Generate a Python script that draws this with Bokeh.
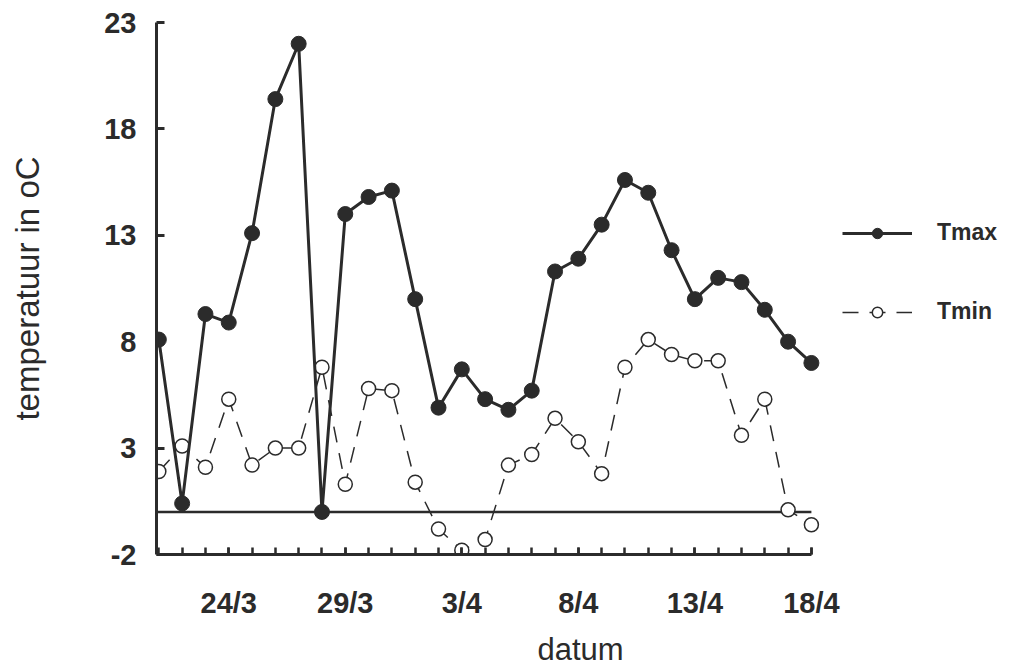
from bokeh.plotting import figure
from bokeh.models import Range1d, FixedTicker, Legend, LegendItem
from bokeh.embed import file_html
from bokeh.resources import INLINE

dates = ["21/3", "22/3", "23/3", "24/3", "25/3", "26/3", "27/3", "28/3", "29/3", "30/3", "31/3",
         "1/4", "2/4", "3/4", "4/4", "5/4", "6/4", "7/4", "8/4", "9/4", "10/4", "11/4", "12/4",
         "13/4", "14/4", "15/4", "16/4", "17/4", "18/4"]
tmax = [8.1, 0.4, 9.3, 8.9, 13.1, 19.4, 22.0, 0.0, 14.0, 14.8, 15.1, 10.0, 4.9, 6.7, 5.3,
        4.8, 5.7, 11.3, 11.9, 13.5, 15.6, 15.0, 12.3, 10.0, 11.0, 10.8, 9.5, 8.0, 7.0]
tmin = [1.9, 3.1, 2.1, 5.3, 2.2, 3.0, 3.0, 6.8, 1.3, 5.8, 5.7, 1.4, -0.8, -1.8, -1.3,
        2.2, 2.7, 4.4, 3.3, 1.8, 6.8, 8.1, 7.4, 7.1, 7.1, 3.6, 5.3, 0.1, -0.6]
x_labels = ["24/3", "29/3", "3/4", "8/4", "13/4", "18/4"]
y_ticks = [-2, 3, 8, 13, 18, 23]

INK = "#2b2b2b"
FONT = "Liberation Sans"

xs = list(range(len(dates)))
x_start = xs[0] - 0.1
x_end = xs[-1]
# frame extends to the right so the legend can sit inside it
PX_PER_DAY = 23.306
FRAME_W = 848
range_end = x_start + FRAME_W / PX_PER_DAY

p = figure(frame_width=FRAME_W, frame_height=532, min_border_left=156, min_border_right=2,
           min_border_top=22, min_border_bottom=60, output_backend="svg",
           toolbar_location=None, title=None,
           x_range=Range1d(x_start, range_end), y_range=Range1d(-2, 23))
p.outline_line_color = None
p.grid.visible = False
p.background_fill_color = "white"
p.border_fill_color = "white"

# x axis
label_idx = [dates.index(d) for d in x_labels]
p.xaxis.bounds = (x_start, x_end)
p.xaxis.ticker = FixedTicker(ticks=label_idx, minor_ticks=xs)
p.xaxis.major_label_overrides = {i: dates[i] for i in label_idx}
p.xaxis.axis_line_width = 3
p.xaxis.axis_line_color = INK
p.xaxis.major_tick_in = 7
p.xaxis.major_tick_out = 0
p.xaxis.minor_tick_in = 7
p.xaxis.minor_tick_out = 0
p.xaxis.major_tick_line_width = 2.5
p.xaxis.minor_tick_line_width = 2.5
p.xaxis.major_tick_line_color = INK
p.xaxis.minor_tick_line_color = INK
p.xaxis.major_label_standoff = 32
p.xaxis.major_label_text_font = FONT
p.xaxis.major_label_text_font_style = "bold"
p.xaxis.major_label_text_font_size = "29px"
p.xaxis.major_label_text_color = INK
p.xaxis.axis_label = "datum"
p.xaxis.axis_label_text_font = FONT
p.xaxis.axis_label_text_font_style = "normal"
p.xaxis.axis_label_text_font_size = "31px"
p.xaxis.axis_label_text_color = INK
p.xaxis.axis_label_standoff = 10

# y axis
p.yaxis.ticker = FixedTicker(ticks=y_ticks, minor_ticks=[])
p.yaxis.major_label_overrides = {t: str(t) for t in y_ticks}
p.yaxis.axis_line_width = 3
p.yaxis.axis_line_color = INK
p.yaxis.major_tick_in = 8
p.yaxis.major_tick_out = 0
p.yaxis.major_tick_line_width = 3
p.yaxis.major_tick_line_color = INK
p.yaxis.major_label_standoff = 20
p.yaxis.major_label_text_font = FONT
p.yaxis.major_label_text_font_style = "bold"
p.yaxis.major_label_text_font_size = "29px"
p.yaxis.major_label_text_color = INK
p.yaxis.axis_label = "temperatuur in oC"
p.yaxis.axis_label_text_font = FONT
p.yaxis.axis_label_text_font_style = "normal"
p.yaxis.axis_label_text_font_size = "33px"
p.yaxis.axis_label_text_color = INK
p.yaxis.axis_label_standoff = 55

# zero line across the data span
p.line([x_start, x_end], [0, 0], line_color=INK, line_width=2.5)

# Tmin
lmin = p.line(xs, tmin, line_color=INK, line_width=1.5, line_dash="16 11")
smin = p.scatter(xs, tmin, marker="circle", size=14, fill_color="white",
                 line_color=INK, line_width=1.5)
# Tmax
lmax = p.line(xs, tmax, line_color=INK, line_width=3)
smax = p.scatter(xs, tmax, marker="circle", size=15, fill_color=INK, line_color=INK)

legend = Legend(items=[LegendItem(label="Tmax", renderers=[lmax, smax]),
                       LegendItem(label="Tmin", renderers=[lmin, smin])],
                location=(686, 229), padding=0, margin=0, spacing=52,
                glyph_width=70, glyph_height=26, label_height=26, label_standoff=25,
                border_line_color=None, background_fill_alpha=0,
                label_text_font=FONT, label_text_font_style="bold",
                label_text_font_size="23px", label_text_color=INK)
p.add_layout(legend)

open("out.html", "w").write(file_html(p, INLINE))
